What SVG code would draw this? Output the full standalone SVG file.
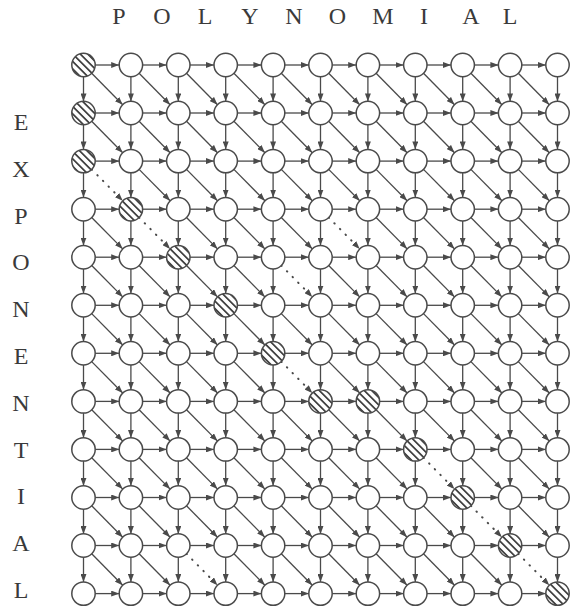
<svg xmlns="http://www.w3.org/2000/svg" width="571" height="610" viewBox="0 0 571 610">
<style>
#connectors path{fill:none;stroke:#4a4a4a;stroke-width:1.3;marker-end:url(#ah)}
#connectors path.d{stroke-dasharray:0.5 7.5;stroke-linecap:round;stroke-width:2}
.node circle{fill:#fff;stroke:#4a4a4a;stroke-width:1.5}
.node.s circle{fill:url(#hatch)}
.lbl{font-family:"Liberation Serif","Times New Roman",serif;font-size:24px;fill:#3a3a3a;text-anchor:middle}
</style>
<defs>
<marker id="ah" viewBox="0 0 8 6" refX="8" refY="3" markerWidth="8" markerHeight="6" markerUnits="userSpaceOnUse" orient="auto"><path d="M0 0L8 3L0 6z" fill="#4a4a4a"/></marker>
<pattern id="hatch" patternUnits="userSpaceOnUse" width="5.3" height="10" patternTransform="rotate(-45)"><rect width="5.3" height="10" fill="#fff"/><line x1="2.65" y1="0" x2="2.65" y2="10" stroke="#3a3a3a" stroke-width="1.7"/></pattern>
</defs>
<g id="labels">
<text class="lbl" x="119" y="24">P</text><text class="lbl" x="162" y="24">O</text><text class="lbl" x="205" y="24">L</text><text class="lbl" x="250" y="24">Y</text><text class="lbl" x="294" y="24">N</text><text class="lbl" x="337.5" y="24">O</text><text class="lbl" x="383" y="24">M</text><text class="lbl" x="424" y="24">I</text><text class="lbl" x="471" y="24">A</text><text class="lbl" x="510" y="24">L</text>
<text class="lbl" x="21" y="130">E</text><text class="lbl" x="21" y="176.8">X</text><text class="lbl" x="21" y="223.6">P</text><text class="lbl" x="21" y="270.4">O</text><text class="lbl" x="21" y="317.2">N</text><text class="lbl" x="21" y="364">E</text><text class="lbl" x="21" y="410.8">N</text><text class="lbl" x="21" y="457.6">T</text><text class="lbl" x="21" y="504.4">I</text><text class="lbl" x="21" y="551.2">A</text><text class="lbl" x="21" y="598">L</text>
</g>
<g id="connectors">
<g transform="translate(0,65)">
<path d="M95.2 0H119.2"/><path d="M142.6 0H166.6"/><path d="M190 0H214"/><path d="M237.4 0H261.4"/><path d="M284.8 0H308.8"/><path d="M332.2 0H356.2"/><path d="M379.6 0H403.6"/><path d="M427 0H451"/><path d="M474.4 0H498.4"/><path d="M521.8 0H545.8"/>
<path d="M83.5 11.7V36.4"/><path d="M130.9 11.7V36.4"/><path d="M178.3 11.7V36.4"/><path d="M225.7 11.7V36.4"/><path d="M273.1 11.7V36.4"/><path d="M320.5 11.7V36.4"/><path d="M367.9 11.7V36.4"/><path d="M415.3 11.7V36.4"/><path d="M462.7 11.7V36.4"/><path d="M510.1 11.7V36.4"/><path d="M557.5 11.7V36.4"/>
<path d="M91.7 8.3L122.7 39.7"/><path d="M139.1 8.3L170.1 39.7"/><path d="M186.5 8.3L217.5 39.7"/><path d="M233.9 8.3L264.9 39.7"/><path d="M281.3 8.3L312.3 39.7"/><path d="M328.7 8.3L359.7 39.7"/><path d="M376.1 8.3L407.1 39.7"/><path d="M423.5 8.3L454.5 39.7"/><path d="M470.9 8.3L501.9 39.7"/><path d="M518.3 8.3L549.3 39.7"/>
</g>
<g transform="translate(0,113)">
<path d="M95.2 0H119.2"/><path d="M142.6 0H166.6"/><path d="M190 0H214"/><path d="M237.4 0H261.4"/><path d="M284.8 0H308.8"/><path d="M332.2 0H356.2"/><path d="M379.6 0H403.6"/><path d="M427 0H451"/><path d="M474.4 0H498.4"/><path d="M521.8 0H545.8"/>
<path d="M83.5 11.7V36.4"/><path d="M130.9 11.7V36.4"/><path d="M178.3 11.7V36.4"/><path d="M225.7 11.7V36.4"/><path d="M273.1 11.7V36.4"/><path d="M320.5 11.7V36.4"/><path d="M367.9 11.7V36.4"/><path d="M415.3 11.7V36.4"/><path d="M462.7 11.7V36.4"/><path d="M510.1 11.7V36.4"/><path d="M557.5 11.7V36.4"/>
<path d="M91.7 8.3L122.7 39.7"/><path d="M139.1 8.3L170.1 39.7"/><path d="M186.5 8.3L217.5 39.7"/><path d="M233.9 8.3L264.9 39.7"/><path d="M281.3 8.3L312.3 39.7"/><path d="M328.7 8.3L359.7 39.7"/><path d="M376.1 8.3L407.1 39.7"/><path d="M423.5 8.3L454.5 39.7"/><path d="M470.9 8.3L501.9 39.7"/><path d="M518.3 8.3L549.3 39.7"/>
</g>
<g transform="translate(0,161.1)">
<path d="M95.2 0H119.2"/><path d="M142.6 0H166.6"/><path d="M190 0H214"/><path d="M237.4 0H261.4"/><path d="M284.8 0H308.8"/><path d="M332.2 0H356.2"/><path d="M379.6 0H403.6"/><path d="M427 0H451"/><path d="M474.4 0H498.4"/><path d="M521.8 0H545.8"/>
<path d="M83.5 11.7V36.4"/><path d="M130.9 11.7V36.4"/><path d="M178.3 11.7V36.4"/><path d="M225.7 11.7V36.4"/><path d="M273.1 11.7V36.4"/><path d="M320.5 11.7V36.4"/><path d="M367.9 11.7V36.4"/><path d="M415.3 11.7V36.4"/><path d="M462.7 11.7V36.4"/><path d="M510.1 11.7V36.4"/><path d="M557.5 11.7V36.4"/>
<path class="d" d="M91.7 8.3L122.7 39.7"/><path d="M139.1 8.3L170.1 39.7"/><path d="M186.5 8.3L217.5 39.7"/><path d="M233.9 8.3L264.9 39.7"/><path d="M281.3 8.3L312.3 39.7"/><path d="M328.7 8.3L359.7 39.7"/><path d="M376.1 8.3L407.1 39.7"/><path d="M423.5 8.3L454.5 39.7"/><path d="M470.9 8.3L501.9 39.7"/><path d="M518.3 8.3L549.3 39.7"/>
</g>
<g transform="translate(0,209.2)">
<path d="M95.2 0H119.2"/><path d="M142.6 0H166.6"/><path d="M190 0H214"/><path d="M237.4 0H261.4"/><path d="M284.8 0H308.8"/><path d="M332.2 0H356.2"/><path d="M379.6 0H403.6"/><path d="M427 0H451"/><path d="M474.4 0H498.4"/><path d="M521.8 0H545.8"/>
<path d="M83.5 11.7V36.4"/><path d="M130.9 11.7V36.4"/><path d="M178.3 11.7V36.4"/><path d="M225.7 11.7V36.4"/><path d="M273.1 11.7V36.4"/><path d="M320.5 11.7V36.4"/><path d="M367.9 11.7V36.4"/><path d="M415.3 11.7V36.4"/><path d="M462.7 11.7V36.4"/><path d="M510.1 11.7V36.4"/><path d="M557.5 11.7V36.4"/>
<path d="M91.7 8.3L122.7 39.7"/><path class="d" d="M139.1 8.3L170.1 39.7"/><path d="M186.5 8.3L217.5 39.7"/><path d="M233.9 8.3L264.9 39.7"/><path d="M281.3 8.3L312.3 39.7"/><path class="d" d="M328.7 8.3L359.7 39.7"/><path d="M376.1 8.3L407.1 39.7"/><path d="M423.5 8.3L454.5 39.7"/><path d="M470.9 8.3L501.9 39.7"/><path d="M518.3 8.3L549.3 39.7"/>
</g>
<g transform="translate(0,257.2)">
<path d="M95.2 0H119.2"/><path d="M142.6 0H166.6"/><path d="M190 0H214"/><path d="M237.4 0H261.4"/><path d="M284.8 0H308.8"/><path d="M332.2 0H356.2"/><path d="M379.6 0H403.6"/><path d="M427 0H451"/><path d="M474.4 0H498.4"/><path d="M521.8 0H545.8"/>
<path d="M83.5 11.7V36.4"/><path d="M130.9 11.7V36.4"/><path d="M178.3 11.7V36.4"/><path d="M225.7 11.7V36.4"/><path d="M273.1 11.7V36.4"/><path d="M320.5 11.7V36.4"/><path d="M367.9 11.7V36.4"/><path d="M415.3 11.7V36.4"/><path d="M462.7 11.7V36.4"/><path d="M510.1 11.7V36.4"/><path d="M557.5 11.7V36.4"/>
<path d="M91.7 8.3L122.7 39.7"/><path d="M139.1 8.3L170.1 39.7"/><path d="M186.5 8.3L217.5 39.7"/><path d="M233.9 8.3L264.9 39.7"/><path class="d" d="M281.3 8.3L312.3 39.7"/><path d="M328.7 8.3L359.7 39.7"/><path d="M376.1 8.3L407.1 39.7"/><path d="M423.5 8.3L454.5 39.7"/><path d="M470.9 8.3L501.9 39.7"/><path d="M518.3 8.3L549.3 39.7"/>
</g>
<g transform="translate(0,305.3)">
<path d="M95.2 0H119.2"/><path d="M142.6 0H166.6"/><path d="M190 0H214"/><path d="M237.4 0H261.4"/><path d="M284.8 0H308.8"/><path d="M332.2 0H356.2"/><path d="M379.6 0H403.6"/><path d="M427 0H451"/><path d="M474.4 0H498.4"/><path d="M521.8 0H545.8"/>
<path d="M83.5 11.7V36.4"/><path d="M130.9 11.7V36.4"/><path d="M178.3 11.7V36.4"/><path d="M225.7 11.7V36.4"/><path d="M273.1 11.7V36.4"/><path d="M320.5 11.7V36.4"/><path d="M367.9 11.7V36.4"/><path d="M415.3 11.7V36.4"/><path d="M462.7 11.7V36.4"/><path d="M510.1 11.7V36.4"/><path d="M557.5 11.7V36.4"/>
<path d="M91.7 8.3L122.7 39.7"/><path d="M139.1 8.3L170.1 39.7"/><path d="M186.5 8.3L217.5 39.7"/><path d="M233.9 8.3L264.9 39.7"/><path d="M281.3 8.3L312.3 39.7"/><path d="M328.7 8.3L359.7 39.7"/><path d="M376.1 8.3L407.1 39.7"/><path d="M423.5 8.3L454.5 39.7"/><path d="M470.9 8.3L501.9 39.7"/><path d="M518.3 8.3L549.3 39.7"/>
</g>
<g transform="translate(0,353.3)">
<path d="M95.2 0H119.2"/><path d="M142.6 0H166.6"/><path d="M190 0H214"/><path d="M237.4 0H261.4"/><path d="M284.8 0H308.8"/><path d="M332.2 0H356.2"/><path d="M379.6 0H403.6"/><path d="M427 0H451"/><path d="M474.4 0H498.4"/><path d="M521.8 0H545.8"/>
<path d="M83.5 11.7V36.4"/><path d="M130.9 11.7V36.4"/><path d="M178.3 11.7V36.4"/><path d="M225.7 11.7V36.4"/><path d="M273.1 11.7V36.4"/><path d="M320.5 11.7V36.4"/><path d="M367.9 11.7V36.4"/><path d="M415.3 11.7V36.4"/><path d="M462.7 11.7V36.4"/><path d="M510.1 11.7V36.4"/><path d="M557.5 11.7V36.4"/>
<path d="M91.7 8.3L122.7 39.7"/><path d="M139.1 8.3L170.1 39.7"/><path d="M186.5 8.3L217.5 39.7"/><path d="M233.9 8.3L264.9 39.7"/><path class="d" d="M281.3 8.3L312.3 39.7"/><path d="M328.7 8.3L359.7 39.7"/><path d="M376.1 8.3L407.1 39.7"/><path d="M423.5 8.3L454.5 39.7"/><path d="M470.9 8.3L501.9 39.7"/><path d="M518.3 8.3L549.3 39.7"/>
</g>
<g transform="translate(0,401.4)">
<path d="M95.2 0H119.2"/><path d="M142.6 0H166.6"/><path d="M190 0H214"/><path d="M237.4 0H261.4"/><path d="M284.8 0H308.8"/><path d="M332.2 0H356.2"/><path d="M379.6 0H403.6"/><path d="M427 0H451"/><path d="M474.4 0H498.4"/><path d="M521.8 0H545.8"/>
<path d="M83.5 11.7V36.4"/><path d="M130.9 11.7V36.4"/><path d="M178.3 11.7V36.4"/><path d="M225.7 11.7V36.4"/><path d="M273.1 11.7V36.4"/><path d="M320.5 11.7V36.4"/><path d="M367.9 11.7V36.4"/><path d="M415.3 11.7V36.4"/><path d="M462.7 11.7V36.4"/><path d="M510.1 11.7V36.4"/><path d="M557.5 11.7V36.4"/>
<path d="M91.7 8.3L122.7 39.7"/><path d="M139.1 8.3L170.1 39.7"/><path d="M186.5 8.3L217.5 39.7"/><path d="M233.9 8.3L264.9 39.7"/><path d="M281.3 8.3L312.3 39.7"/><path d="M328.7 8.3L359.7 39.7"/><path d="M376.1 8.3L407.1 39.7"/><path d="M423.5 8.3L454.5 39.7"/><path d="M470.9 8.3L501.9 39.7"/><path d="M518.3 8.3L549.3 39.7"/>
</g>
<g transform="translate(0,449.4)">
<path d="M95.2 0H119.2"/><path d="M142.6 0H166.6"/><path d="M190 0H214"/><path d="M237.4 0H261.4"/><path d="M284.8 0H308.8"/><path d="M332.2 0H356.2"/><path d="M379.6 0H403.6"/><path d="M427 0H451"/><path d="M474.4 0H498.4"/><path d="M521.8 0H545.8"/>
<path d="M83.5 11.7V36.4"/><path d="M130.9 11.7V36.4"/><path d="M178.3 11.7V36.4"/><path d="M225.7 11.7V36.4"/><path d="M273.1 11.7V36.4"/><path d="M320.5 11.7V36.4"/><path d="M367.9 11.7V36.4"/><path d="M415.3 11.7V36.4"/><path d="M462.7 11.7V36.4"/><path d="M510.1 11.7V36.4"/><path d="M557.5 11.7V36.4"/>
<path d="M91.7 8.3L122.7 39.7"/><path d="M139.1 8.3L170.1 39.7"/><path d="M186.5 8.3L217.5 39.7"/><path d="M233.9 8.3L264.9 39.7"/><path d="M281.3 8.3L312.3 39.7"/><path d="M328.7 8.3L359.7 39.7"/><path d="M376.1 8.3L407.1 39.7"/><path class="d" d="M423.5 8.3L454.5 39.7"/><path d="M470.9 8.3L501.9 39.7"/><path d="M518.3 8.3L549.3 39.7"/>
</g>
<g transform="translate(0,497.5)">
<path d="M95.2 0H119.2"/><path d="M142.6 0H166.6"/><path d="M190 0H214"/><path d="M237.4 0H261.4"/><path d="M284.8 0H308.8"/><path d="M332.2 0H356.2"/><path d="M379.6 0H403.6"/><path d="M427 0H451"/><path d="M474.4 0H498.4"/><path d="M521.8 0H545.8"/>
<path d="M83.5 11.7V36.4"/><path d="M130.9 11.7V36.4"/><path d="M178.3 11.7V36.4"/><path d="M225.7 11.7V36.4"/><path d="M273.1 11.7V36.4"/><path d="M320.5 11.7V36.4"/><path d="M367.9 11.7V36.4"/><path d="M415.3 11.7V36.4"/><path d="M462.7 11.7V36.4"/><path d="M510.1 11.7V36.4"/><path d="M557.5 11.7V36.4"/>
<path d="M91.7 8.3L122.7 39.7"/><path d="M139.1 8.3L170.1 39.7"/><path d="M186.5 8.3L217.5 39.7"/><path d="M233.9 8.3L264.9 39.7"/><path d="M281.3 8.3L312.3 39.7"/><path d="M328.7 8.3L359.7 39.7"/><path d="M376.1 8.3L407.1 39.7"/><path d="M423.5 8.3L454.5 39.7"/><path class="d" d="M470.9 8.3L501.9 39.7"/><path d="M518.3 8.3L549.3 39.7"/>
</g>
<g transform="translate(0,545.5)">
<path d="M95.2 0H119.2"/><path d="M142.6 0H166.6"/><path d="M190 0H214"/><path d="M237.4 0H261.4"/><path d="M284.8 0H308.8"/><path d="M332.2 0H356.2"/><path d="M379.6 0H403.6"/><path d="M427 0H451"/><path d="M474.4 0H498.4"/><path d="M521.8 0H545.8"/>
<path d="M83.5 11.7V36.4"/><path d="M130.9 11.7V36.4"/><path d="M178.3 11.7V36.4"/><path d="M225.7 11.7V36.4"/><path d="M273.1 11.7V36.4"/><path d="M320.5 11.7V36.4"/><path d="M367.9 11.7V36.4"/><path d="M415.3 11.7V36.4"/><path d="M462.7 11.7V36.4"/><path d="M510.1 11.7V36.4"/><path d="M557.5 11.7V36.4"/>
<path d="M91.7 8.3L122.7 39.7"/><path d="M139.1 8.3L170.1 39.7"/><path class="d" d="M186.5 8.3L217.5 39.7"/><path d="M233.9 8.3L264.9 39.7"/><path d="M281.3 8.3L312.3 39.7"/><path d="M328.7 8.3L359.7 39.7"/><path d="M376.1 8.3L407.1 39.7"/><path d="M423.5 8.3L454.5 39.7"/><path d="M470.9 8.3L501.9 39.7"/><path class="d" d="M518.3 8.3L549.3 39.7"/>
</g>
<g transform="translate(0,593.6)">
<path d="M95.2 0H119.2"/><path d="M142.6 0H166.6"/><path d="M190 0H214"/><path d="M237.4 0H261.4"/><path d="M284.8 0H308.8"/><path d="M332.2 0H356.2"/><path d="M379.6 0H403.6"/><path d="M427 0H451"/><path d="M474.4 0H498.4"/><path d="M521.8 0H545.8"/>
</g>
</g>
<g id="nodes">
<g id="r0c0" class="node s"><circle cx="83.5" cy="65" r="11.7"/></g><g id="r0c1" class="node"><circle cx="130.9" cy="65" r="11.7"/></g><g id="r0c2" class="node"><circle cx="178.3" cy="65" r="11.7"/></g><g id="r0c3" class="node"><circle cx="225.7" cy="65" r="11.7"/></g><g id="r0c4" class="node"><circle cx="273.1" cy="65" r="11.7"/></g><g id="r0c5" class="node"><circle cx="320.5" cy="65" r="11.7"/></g><g id="r0c6" class="node"><circle cx="367.9" cy="65" r="11.7"/></g><g id="r0c7" class="node"><circle cx="415.3" cy="65" r="11.7"/></g><g id="r0c8" class="node"><circle cx="462.7" cy="65" r="11.7"/></g><g id="r0c9" class="node"><circle cx="510.1" cy="65" r="11.7"/></g><g id="r0c10" class="node"><circle cx="557.5" cy="65" r="11.7"/></g>
<g id="r1c0" class="node s"><circle cx="83.5" cy="113" r="11.7"/></g><g id="r1c1" class="node"><circle cx="130.9" cy="113" r="11.7"/></g><g id="r1c2" class="node"><circle cx="178.3" cy="113" r="11.7"/></g><g id="r1c3" class="node"><circle cx="225.7" cy="113" r="11.7"/></g><g id="r1c4" class="node"><circle cx="273.1" cy="113" r="11.7"/></g><g id="r1c5" class="node"><circle cx="320.5" cy="113" r="11.7"/></g><g id="r1c6" class="node"><circle cx="367.9" cy="113" r="11.7"/></g><g id="r1c7" class="node"><circle cx="415.3" cy="113" r="11.7"/></g><g id="r1c8" class="node"><circle cx="462.7" cy="113" r="11.7"/></g><g id="r1c9" class="node"><circle cx="510.1" cy="113" r="11.7"/></g><g id="r1c10" class="node"><circle cx="557.5" cy="113" r="11.7"/></g>
<g id="r2c0" class="node s"><circle cx="83.5" cy="161.1" r="11.7"/></g><g id="r2c1" class="node"><circle cx="130.9" cy="161.1" r="11.7"/></g><g id="r2c2" class="node"><circle cx="178.3" cy="161.1" r="11.7"/></g><g id="r2c3" class="node"><circle cx="225.7" cy="161.1" r="11.7"/></g><g id="r2c4" class="node"><circle cx="273.1" cy="161.1" r="11.7"/></g><g id="r2c5" class="node"><circle cx="320.5" cy="161.1" r="11.7"/></g><g id="r2c6" class="node"><circle cx="367.9" cy="161.1" r="11.7"/></g><g id="r2c7" class="node"><circle cx="415.3" cy="161.1" r="11.7"/></g><g id="r2c8" class="node"><circle cx="462.7" cy="161.1" r="11.7"/></g><g id="r2c9" class="node"><circle cx="510.1" cy="161.1" r="11.7"/></g><g id="r2c10" class="node"><circle cx="557.5" cy="161.1" r="11.7"/></g>
<g id="r3c0" class="node"><circle cx="83.5" cy="209.2" r="11.7"/></g><g id="r3c1" class="node s"><circle cx="130.9" cy="209.2" r="11.7"/></g><g id="r3c2" class="node"><circle cx="178.3" cy="209.2" r="11.7"/></g><g id="r3c3" class="node"><circle cx="225.7" cy="209.2" r="11.7"/></g><g id="r3c4" class="node"><circle cx="273.1" cy="209.2" r="11.7"/></g><g id="r3c5" class="node"><circle cx="320.5" cy="209.2" r="11.7"/></g><g id="r3c6" class="node"><circle cx="367.9" cy="209.2" r="11.7"/></g><g id="r3c7" class="node"><circle cx="415.3" cy="209.2" r="11.7"/></g><g id="r3c8" class="node"><circle cx="462.7" cy="209.2" r="11.7"/></g><g id="r3c9" class="node"><circle cx="510.1" cy="209.2" r="11.7"/></g><g id="r3c10" class="node"><circle cx="557.5" cy="209.2" r="11.7"/></g>
<g id="r4c0" class="node"><circle cx="83.5" cy="257.2" r="11.7"/></g><g id="r4c1" class="node"><circle cx="130.9" cy="257.2" r="11.7"/></g><g id="r4c2" class="node s"><circle cx="178.3" cy="257.2" r="11.7"/></g><g id="r4c3" class="node"><circle cx="225.7" cy="257.2" r="11.7"/></g><g id="r4c4" class="node"><circle cx="273.1" cy="257.2" r="11.7"/></g><g id="r4c5" class="node"><circle cx="320.5" cy="257.2" r="11.7"/></g><g id="r4c6" class="node"><circle cx="367.9" cy="257.2" r="11.7"/></g><g id="r4c7" class="node"><circle cx="415.3" cy="257.2" r="11.7"/></g><g id="r4c8" class="node"><circle cx="462.7" cy="257.2" r="11.7"/></g><g id="r4c9" class="node"><circle cx="510.1" cy="257.2" r="11.7"/></g><g id="r4c10" class="node"><circle cx="557.5" cy="257.2" r="11.7"/></g>
<g id="r5c0" class="node"><circle cx="83.5" cy="305.3" r="11.7"/></g><g id="r5c1" class="node"><circle cx="130.9" cy="305.3" r="11.7"/></g><g id="r5c2" class="node"><circle cx="178.3" cy="305.3" r="11.7"/></g><g id="r5c3" class="node s"><circle cx="225.7" cy="305.3" r="11.7"/></g><g id="r5c4" class="node"><circle cx="273.1" cy="305.3" r="11.7"/></g><g id="r5c5" class="node"><circle cx="320.5" cy="305.3" r="11.7"/></g><g id="r5c6" class="node"><circle cx="367.9" cy="305.3" r="11.7"/></g><g id="r5c7" class="node"><circle cx="415.3" cy="305.3" r="11.7"/></g><g id="r5c8" class="node"><circle cx="462.7" cy="305.3" r="11.7"/></g><g id="r5c9" class="node"><circle cx="510.1" cy="305.3" r="11.7"/></g><g id="r5c10" class="node"><circle cx="557.5" cy="305.3" r="11.7"/></g>
<g id="r6c0" class="node"><circle cx="83.5" cy="353.3" r="11.7"/></g><g id="r6c1" class="node"><circle cx="130.9" cy="353.3" r="11.7"/></g><g id="r6c2" class="node"><circle cx="178.3" cy="353.3" r="11.7"/></g><g id="r6c3" class="node"><circle cx="225.7" cy="353.3" r="11.7"/></g><g id="r6c4" class="node s"><circle cx="273.1" cy="353.3" r="11.7"/></g><g id="r6c5" class="node"><circle cx="320.5" cy="353.3" r="11.7"/></g><g id="r6c6" class="node"><circle cx="367.9" cy="353.3" r="11.7"/></g><g id="r6c7" class="node"><circle cx="415.3" cy="353.3" r="11.7"/></g><g id="r6c8" class="node"><circle cx="462.7" cy="353.3" r="11.7"/></g><g id="r6c9" class="node"><circle cx="510.1" cy="353.3" r="11.7"/></g><g id="r6c10" class="node"><circle cx="557.5" cy="353.3" r="11.7"/></g>
<g id="r7c0" class="node"><circle cx="83.5" cy="401.4" r="11.7"/></g><g id="r7c1" class="node"><circle cx="130.9" cy="401.4" r="11.7"/></g><g id="r7c2" class="node"><circle cx="178.3" cy="401.4" r="11.7"/></g><g id="r7c3" class="node"><circle cx="225.7" cy="401.4" r="11.7"/></g><g id="r7c4" class="node"><circle cx="273.1" cy="401.4" r="11.7"/></g><g id="r7c5" class="node s"><circle cx="320.5" cy="401.4" r="11.7"/></g><g id="r7c6" class="node s"><circle cx="367.9" cy="401.4" r="11.7"/></g><g id="r7c7" class="node"><circle cx="415.3" cy="401.4" r="11.7"/></g><g id="r7c8" class="node"><circle cx="462.7" cy="401.4" r="11.7"/></g><g id="r7c9" class="node"><circle cx="510.1" cy="401.4" r="11.7"/></g><g id="r7c10" class="node"><circle cx="557.5" cy="401.4" r="11.7"/></g>
<g id="r8c0" class="node"><circle cx="83.5" cy="449.4" r="11.7"/></g><g id="r8c1" class="node"><circle cx="130.9" cy="449.4" r="11.7"/></g><g id="r8c2" class="node"><circle cx="178.3" cy="449.4" r="11.7"/></g><g id="r8c3" class="node"><circle cx="225.7" cy="449.4" r="11.7"/></g><g id="r8c4" class="node"><circle cx="273.1" cy="449.4" r="11.7"/></g><g id="r8c5" class="node"><circle cx="320.5" cy="449.4" r="11.7"/></g><g id="r8c6" class="node"><circle cx="367.9" cy="449.4" r="11.7"/></g><g id="r8c7" class="node s"><circle cx="415.3" cy="449.4" r="11.7"/></g><g id="r8c8" class="node"><circle cx="462.7" cy="449.4" r="11.7"/></g><g id="r8c9" class="node"><circle cx="510.1" cy="449.4" r="11.7"/></g><g id="r8c10" class="node"><circle cx="557.5" cy="449.4" r="11.7"/></g>
<g id="r9c0" class="node"><circle cx="83.5" cy="497.5" r="11.7"/></g><g id="r9c1" class="node"><circle cx="130.9" cy="497.5" r="11.7"/></g><g id="r9c2" class="node"><circle cx="178.3" cy="497.5" r="11.7"/></g><g id="r9c3" class="node"><circle cx="225.7" cy="497.5" r="11.7"/></g><g id="r9c4" class="node"><circle cx="273.1" cy="497.5" r="11.7"/></g><g id="r9c5" class="node"><circle cx="320.5" cy="497.5" r="11.7"/></g><g id="r9c6" class="node"><circle cx="367.9" cy="497.5" r="11.7"/></g><g id="r9c7" class="node"><circle cx="415.3" cy="497.5" r="11.7"/></g><g id="r9c8" class="node s"><circle cx="462.7" cy="497.5" r="11.7"/></g><g id="r9c9" class="node"><circle cx="510.1" cy="497.5" r="11.7"/></g><g id="r9c10" class="node"><circle cx="557.5" cy="497.5" r="11.7"/></g>
<g id="r10c0" class="node"><circle cx="83.5" cy="545.5" r="11.7"/></g><g id="r10c1" class="node"><circle cx="130.9" cy="545.5" r="11.7"/></g><g id="r10c2" class="node"><circle cx="178.3" cy="545.5" r="11.7"/></g><g id="r10c3" class="node"><circle cx="225.7" cy="545.5" r="11.7"/></g><g id="r10c4" class="node"><circle cx="273.1" cy="545.5" r="11.7"/></g><g id="r10c5" class="node"><circle cx="320.5" cy="545.5" r="11.7"/></g><g id="r10c6" class="node"><circle cx="367.9" cy="545.5" r="11.7"/></g><g id="r10c7" class="node"><circle cx="415.3" cy="545.5" r="11.7"/></g><g id="r10c8" class="node"><circle cx="462.7" cy="545.5" r="11.7"/></g><g id="r10c9" class="node s"><circle cx="510.1" cy="545.5" r="11.7"/></g><g id="r10c10" class="node"><circle cx="557.5" cy="545.5" r="11.7"/></g>
<g id="r11c0" class="node"><circle cx="83.5" cy="593.6" r="11.7"/></g><g id="r11c1" class="node"><circle cx="130.9" cy="593.6" r="11.7"/></g><g id="r11c2" class="node"><circle cx="178.3" cy="593.6" r="11.7"/></g><g id="r11c3" class="node"><circle cx="225.7" cy="593.6" r="11.7"/></g><g id="r11c4" class="node"><circle cx="273.1" cy="593.6" r="11.7"/></g><g id="r11c5" class="node"><circle cx="320.5" cy="593.6" r="11.7"/></g><g id="r11c6" class="node"><circle cx="367.9" cy="593.6" r="11.7"/></g><g id="r11c7" class="node"><circle cx="415.3" cy="593.6" r="11.7"/></g><g id="r11c8" class="node"><circle cx="462.7" cy="593.6" r="11.7"/></g><g id="r11c9" class="node"><circle cx="510.1" cy="593.6" r="11.7"/></g><g id="r11c10" class="node s"><circle cx="557.5" cy="593.6" r="11.7"/></g>
</g>
</svg>
